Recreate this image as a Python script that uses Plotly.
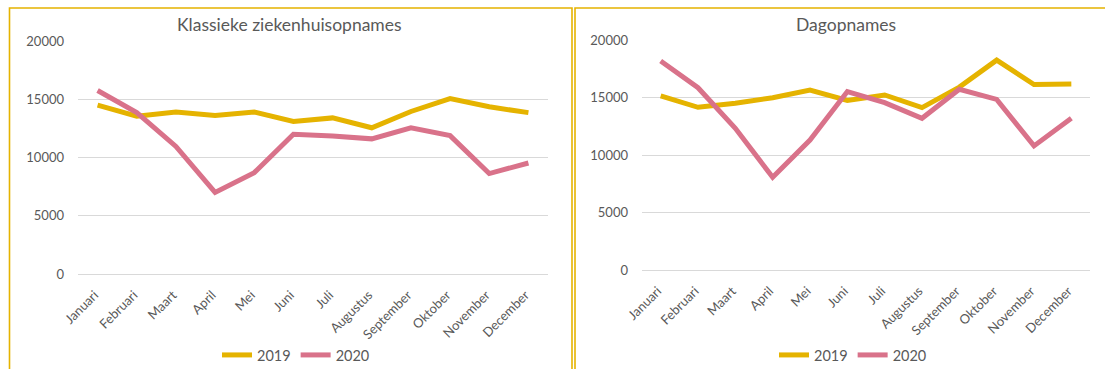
import plotly.graph_objects as go

W, H = 1105, 369

maanden = ["Januari", "Februari", "Maart", "April", "Mei", "Juni", "Juli",
           "Augustus", "September", "Oktober", "November", "December"]

klassiek_2019 = [14500, 13550, 13900, 13600, 13900, 13100, 13400, 12550, 13950, 15050, 14350, 13850]
klassiek_2020 = [15750, 13850, 10950, 7000, 8700, 12000, 11850, 11600, 12550, 11880, 8620, 9530]

dag_2019 = [15150, 14150, 14500, 14980, 15650, 14750, 15220, 14120, 15900, 18250, 16130, 16170]
dag_2020 = [18170, 15850, 12320, 8060, 11300, 15520, 14550, 13190, 15720, 14840, 10790, 13190]

y_ticks = [0, 5000, 10000, 15000, 20000]
titels = ["Klassieke ziekenhuisopnames", "Dagopnames"]
jaren = ["2019", "2020"]

GOLD = "#E5B300"
ROZE = "#D9728A"
GRIJS = "#595959"
FONT = "Lato"


def px(x):
    return x / W


def py(y):
    return (H - y) / H


fig = go.Figure()

for vals, name, col in [(klassiek_2019, jaren[0], GOLD), (klassiek_2020, jaren[1], ROZE)]:
    fig.add_trace(go.Scatter(x=maanden, y=vals, name=name, mode="lines",
                             line=dict(color=col, width=5), xaxis="x", yaxis="y",
                             legend="legend"))
for vals, name, col in [(dag_2019, jaren[0], GOLD), (dag_2020, jaren[1], ROZE)]:
    fig.add_trace(go.Scatter(x=maanden, y=vals, name=name, mode="lines",
                             line=dict(color=col, width=5), xaxis="x2", yaxis="y2",
                             legend="legend2"))

xcommon = dict(type="category", range=[-0.5, len(maanden) - 0.5], showgrid=False,
               showline=False, ticks="", tickangle=-45,
               tickfont=dict(family=FONT, size=13, color=GRIJS),
               ticklabelstandoff=10, ticklabelshift=-3, fixedrange=True, automargin=False)
ycommon = dict(range=[0, 20000], tickvals=y_ticks, tickformat="d", showgrid=True,
               gridcolor="#D9D9D9", gridwidth=1, zeroline=True, zerolinecolor="#D9D9D9",
               zerolinewidth=1, showline=False, ticks="",
               tickfont=dict(family=FONT, size=13, color=GRIJS),
               ticklabelstandoff=13, fixedrange=True, automargin=False)

legcommon = dict(orientation="h", xanchor="center", yanchor="middle",
                 font=dict(family=FONT, size=14.5, color=GRIJS), bgcolor="rgba(0,0,0,0)",
                 itemwidth=30, tracegroupgap=0)

fig.update_layout(
    width=W, height=H,
    margin=dict(l=0, r=0, t=0, b=0, autoexpand=False),
    paper_bgcolor="white", plot_bgcolor="white",
    xaxis=dict(domain=[px(78), px(548)], anchor="y", **xcommon),
    yaxis=dict(domain=[py(274), py(41)], anchor="x", **ycommon),
    xaxis2=dict(domain=[px(642), px(1090)], anchor="y2", **xcommon),
    yaxis2=dict(domain=[py(270), py(40)], anchor="x2", **ycommon),
    legend=dict(x=px(296), y=py(355), **legcommon),
    legend2=dict(x=px(853), y=py(355), **legcommon),
    showlegend=True,
)

# panel titles
fig.add_annotation(text=titels[0], x=px(289), y=py(24), xref="paper", yref="paper",
                   xanchor="center", yanchor="middle", showarrow=False,
                   font=dict(family=FONT, size=17.5, color=GRIJS))
fig.add_annotation(text=titels[1], x=px(846), y=py(24), xref="paper", yref="paper",
                   xanchor="center", yanchor="middle", showarrow=False,
                   font=dict(family=FONT, size=17.5, color=GRIJS))

# heading at the top of the page, cut off by the top edge as in the reference
fig.add_annotation(text="<b>Ziekenhuisactiviteit: vergelijking (2019 t.o.v. 2020)</b>",
                   x=px(358), y=py(-12), xref="paper", yref="paper", xanchor="right",
                   yanchor="middle", showarrow=False,
                   font=dict(family=FONT, size=17, color="#1F3C73"))

# gold panel borders
fig.add_shape(type="rect", xref="paper", yref="paper", x0=px(9.5), x1=px(572),
              y0=-0.1, y1=py(8), line=dict(color=GOLD, width=1.6), layer="below")
fig.add_shape(type="rect", xref="paper", yref="paper", x0=px(575), x1=1.05,
              y0=-0.1, y1=py(8), line=dict(color=GOLD, width=1.6), layer="below")

fig.write_html("out.html")
